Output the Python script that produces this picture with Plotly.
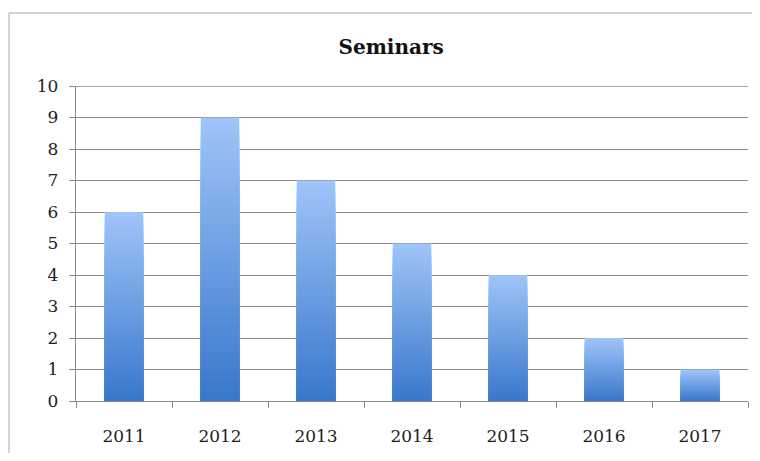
import plotly.graph_objects as go

# data
years = ["2011", "2012", "2013", "2014", "2015", "2016", "2017"]
seminars = [6, 9, 7, 5, 4, 2, 1]

# gradient ends for the bars (top / bottom)
top_rgb = (158, 196, 248)
bottom_rgb = (58, 120, 204)
n_layers = 40

fig = go.Figure()

# fake a vertical gradient: overlay shorter and darker copies of each bar
for k in range(n_layers):
    frac = (n_layers - k) / n_layers
    t = k / (n_layers - 1)
    c = tuple(int(round(a + (b - a) * t)) for a, b in zip(top_rgb, bottom_rgb))
    fig.add_trace(go.Bar(
        x=years, y=[v * frac for v in seminars],
        marker=dict(color="rgb(%d,%d,%d)" % c, line_width=0),
        width=0.4, showlegend=False, hoverinfo="skip" if k else None,
    ))

# page body has an 8px margin, so the figure is a bit smaller than the window
fig.update_layout(
    width=744, height=445,
    barmode="overlay",
    margin=dict(l=68, r=4, t=78, b=52),
    paper_bgcolor="white", plot_bgcolor="white",
    font=dict(family="DejaVu Serif", size=17, color="#222"),
    title=dict(text="<b>Seminars</b>", x=0.515, y=0.912, xanchor="center", yanchor="middle",
               font=dict(family="DejaVu Serif", size=20, color="#111")),
    showlegend=False,
)
fig.update_yaxes(
    range=[0, 10], dtick=1, showgrid=True, gridcolor="#8a8a8a", gridwidth=1.4,
    showline=True, linecolor="#8a8a8a", linewidth=1.4, ticks="outside", ticklen=6,
    tickcolor="#8a8a8a", zeroline=False, ticklabelstandoff=7,
)
fig.update_xaxes(
    showline=True, linecolor="#8a8a8a", linewidth=1.4, ticks="outside", ticklen=6,
    tickcolor="#8a8a8a", tickson="boundaries", ticklabelstandoff=19,
)

# top gridline sits on the range edge, plotly skips it
fig.add_hline(y=10, line=dict(color="#8a8a8a", width=1.4), layer="below")

# outer chart frame: only the left and top edges show in the crop
frame = dict(color="#c4c4c4", width=1.5)
fig.add_shape(type="line", xref="paper", yref="paper",
              x0=-0.0997, x1=-0.0997, y0=-0.4, y1=1.2317, line=frame, layer="below")
fig.add_shape(type="line", xref="paper", yref="paper",
              x0=-0.0997, x1=1.2, y0=1.2317, y1=1.2317, line=frame, layer="below")

fig.write_html("out.html")
